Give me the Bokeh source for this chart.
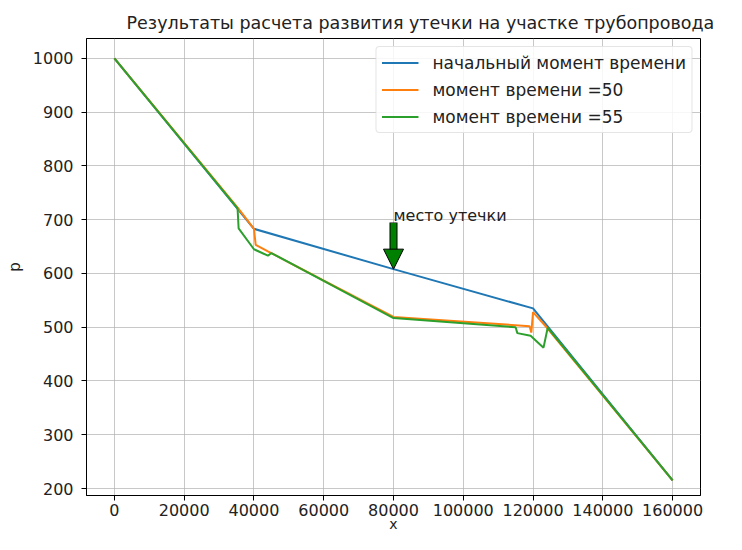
from bokeh.plotting import figure
from bokeh.models import (Legend, LegendItem, Arrow, NormalHead, Label, Range1d,
                          FixedTicker, BasicTickFormatter)
from bokeh.embed import file_html
from bokeh.resources import INLINE

# ---- data ----
x_initial = [0, 40000, 80000, 120000, 160000]
p_initial = [1000, 683, 608, 535, 215]

x_t50 = [0, 35500, 40000, 40500, 44000, 80000, 119000, 119500, 120000, 124000, 160000]
p_t50 = [1000, 721, 683, 653, 641, 519, 502, 490, 528, 499, 215]

x_t55 = [0, 35300, 35600, 40000, 44000, 45000, 80000, 115000, 115500, 119300, 123000, 124200, 160000]
p_t55 = [1000, 721, 684, 645, 633, 638, 517, 500, 489, 484, 462, 499, 215]

labels = ["начальный момент времени", "момент времени =50", "момент времени =55"]
colors = ["#1f77b4", "#ff7f0e", "#2ca02c"]

x_ticks = [0, 20000, 40000, 60000, 80000, 100000, 120000, 140000, 160000]
y_ticks = [200, 300, 400, 500, 600, 700, 800, 900, 1000]

leak_x = 80000
leak_p = 608
leak_text_p = 708
arrow_start_p = 695
leak_text = "место утечки"

FONT = "DejaVu Sans"
INK = "#222222"

p = figure(width=726, height=534, output_backend="svg", toolbar_location=None,
           x_range=Range1d(-8000, 168000), y_range=Range1d(187, 1037),
           min_border_left=86, min_border_right=26, min_border_top=38, min_border_bottom=38,
           title="Результаты расчета развития утечки на участке трубопровода")

p.title.text_font = FONT
p.title.text_font_size = "17.5px"
p.title.text_font_style = "normal"
p.title.align = "left"
p.title.offset = 40
p.title.standoff = 12
p.title.text_color = INK

p.outline_line_color = "black"
p.outline_line_width = 1
p.background_fill_color = "white"

for ax in (p.xaxis[0], p.yaxis[0]):
    ax.axis_line_color = "black"
    ax.major_tick_line_color = "black"
    ax.major_tick_out = 5
    ax.major_tick_in = 0
    ax.minor_tick_line_color = None
    ax.major_label_text_font = FONT
    ax.major_label_text_font_size = "16px"
    ax.major_label_text_color = INK
    ax.axis_label_text_font = FONT
    ax.axis_label_text_font_size = "15px"
    ax.axis_label_text_font_style = "normal"
    ax.axis_label_text_color = INK
    ax.formatter = BasicTickFormatter(use_scientific=False)

p.xaxis.ticker = FixedTicker(ticks=x_ticks)
p.yaxis.ticker = FixedTicker(ticks=y_ticks)
p.xaxis.major_label_standoff = 3
p.xaxis.axis_label = "x"
p.xaxis.axis_label_text_font_size = "14px"
p.xaxis.axis_label_standoff = -3
p.yaxis.major_label_standoff = 8
p.yaxis.axis_label = "p"
p.yaxis.axis_label_standoff = 6

p.xgrid.grid_line_color = "#b0b0b0"
p.ygrid.grid_line_color = "#b0b0b0"
p.xgrid.grid_line_alpha = 0.7
p.ygrid.grid_line_alpha = 0.7
p.xgrid.ticker = FixedTicker(ticks=x_ticks)
p.ygrid.ticker = FixedTicker(ticks=y_ticks)

r0 = p.line(x_initial, p_initial, line_color=colors[0], line_width=2)
r1 = p.line(x_t50, p_t50, line_color=colors[1], line_width=2)
r2 = p.line(x_t55, p_t55, line_color=colors[2], line_width=2)

legend = Legend(items=[LegendItem(label=labels[0], renderers=[r0]),
                       LegendItem(label=labels[1], renderers=[r1]),
                       LegendItem(label=labels[2], renderers=[r2])],
                location="top_right")
legend.label_text_font = FONT
legend.label_text_font_size = "17px"
legend.label_text_color = INK
legend.glyph_width = 37
legend.glyph_height = 21
legend.label_height = 21
legend.label_standoff = 14
legend.spacing = 6
legend.padding = 5
legend.margin = 8
legend.border_line_color = "#cccccc"
legend.background_fill_alpha = 0.85
legend.border_radius = 4
p.add_layout(legend)

# arrow: outlined shaft + filled head
p.add_layout(Arrow(end=None, x_start=leak_x, y_start=arrow_start_p, x_end=leak_x, y_end=leak_p + 25,
                   line_color="black", line_width=8))
p.add_layout(Arrow(end=None, x_start=leak_x, y_start=arrow_start_p - 1, x_end=leak_x, y_end=leak_p + 25,
                   line_color="green", line_width=6))
p.add_layout(Arrow(end=NormalHead(size=20, fill_color="green", line_color="black", line_width=1),
                   x_start=leak_x, y_start=leak_p + 30, x_end=leak_x, y_end=leak_p,
                   line_alpha=0))

p.add_layout(Label(x=leak_x, y=leak_text_p, text=leak_text, text_font=FONT,
                   text_font_size="16px", text_color=INK,
                   text_align="left", text_baseline="alphabetic"))

open("out.html", "w").write(file_html(p, INLINE))
